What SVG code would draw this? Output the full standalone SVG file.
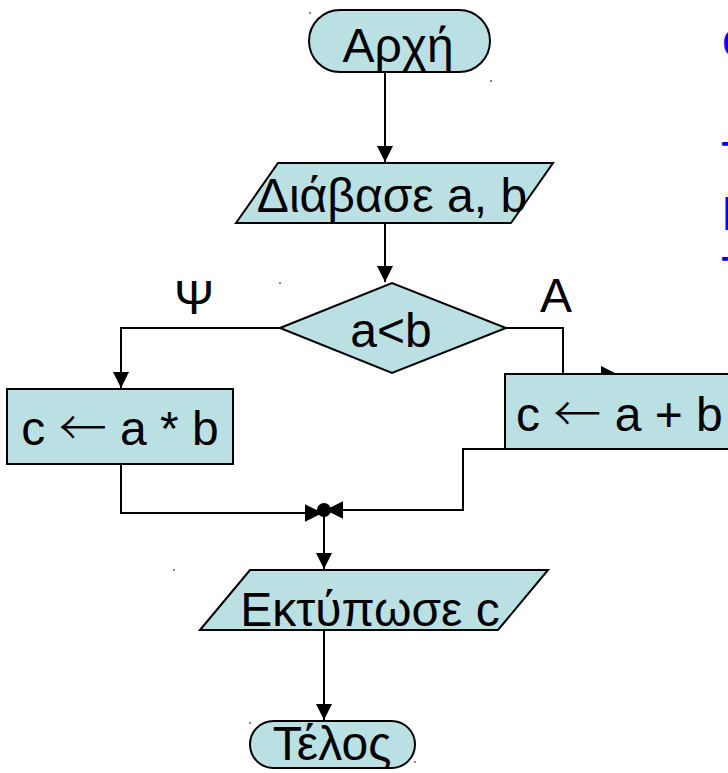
<svg xmlns="http://www.w3.org/2000/svg" width="728" height="773" viewBox="0 0 728 773">
  <style>
    .shape { fill: #BBE0E3; stroke: #000; stroke-width: 2; }
    .lbl { font-family: "Liberation Sans", Arial, sans-serif; font-size: 48px; fill: #000; }
    .mid { text-anchor: middle; }
    .arr { font-family: "Noto Sans CJK JP", "DejaVu Sans", sans-serif; font-weight: 300; }
    .edge { fill: none; stroke: #000; stroke-width: 2; }
    .side { font-family: "Liberation Sans", Arial, sans-serif; font-size: 48px; fill: #0000FF; }
    .speck { fill: #888; }
  </style>
  <defs>
    <marker id="arrowBig" viewBox="0 0 10 10" refX="10" refY="5" markerWidth="16" markerHeight="16" markerUnits="userSpaceOnUse" orient="auto">
      <path d="M0,0 L10,5 L0,10 Z" fill="#000"/>
    </marker>
    <marker id="arrowJoin" viewBox="0 0 10 10" refX="8" refY="5" markerWidth="18" markerHeight="18" markerUnits="userSpaceOnUse" orient="auto">
      <path d="M0,0 L10,5 L0,10 Z" fill="#000"/>
    </marker>
  </defs>

  <!-- connectors -->
  <g id="connectors">
    <path class="edge" d="M385,72 V162" marker-end="url(#arrowBig)"/>
    <path class="edge" d="M385,223 V282" marker-end="url(#arrowBig)"/>
    <path class="edge" d="M280,328 H121 V388" marker-end="url(#arrowBig)"/>
    <path class="edge" d="M506,328 H563 V374 H617" marker-end="url(#arrowBig)"/>
    <path class="edge" d="M121,464 V513 H319" marker-end="url(#arrowJoin)"/>
    <path class="edge" d="M603,449 H463 V510 H329" marker-end="url(#arrowJoin)"/>
    <circle cx="324" cy="510" r="7" fill="#000"/>
    <path class="edge" d="M324,510 V569" marker-end="url(#arrowBig)"/>
    <path class="edge" d="M324,630 V720" marker-end="url(#arrowBig)"/>
  </g>

  <g id="start">
    <rect class="shape" x="309" y="10" width="181" height="62" rx="31"/>
    <text class="lbl mid" x="398" y="62">Αρχή</text>
  </g>

  <g id="read">
    <polygon class="shape" points="236,223 278,163 553,163 511,223"/>
    <text class="lbl mid" x="392" y="212">Διάβασε a, b</text>
  </g>

  <g id="decision">
    <polygon class="shape" points="280,328 392,283 506,328 392,373"/>
    <text class="lbl mid" x="391" y="347">a&lt;b</text>
  </g>
  <text class="lbl mid" x="194" y="314">Ψ</text>
  <text class="lbl mid" x="556" y="312">Α</text>

  <g id="product">
    <rect class="shape" x="7" y="389" width="226" height="75"/>
    <text class="lbl mid" x="120" y="445">c <tspan class="arr">←</tspan> a * b</text>
  </g>

  <g id="sum">
    <rect class="shape" x="505" y="374" width="240" height="75"/>
    <text class="lbl" x="516" y="431">c <tspan class="arr">←</tspan> a + b</text>
  </g>

  <g id="print">
    <polygon class="shape" points="200,630 250,570 548,570 498,630"/>
    <text class="lbl mid" x="370" y="626">Εκτύπωσε c</text>
  </g>

  <g id="end">
    <rect class="shape" x="250" y="721" width="165" height="47" rx="23.5"/>
    <text class="lbl mid" x="332" y="760">Τέλος</text>
  </g>

  <!-- text running past the right edge -->
  <g id="side-text">
    <text class="side" x="722" y="56">c</text>
    <text class="side" x="721" y="175">T</text>
    <text class="side" x="721" y="230">Ι</text>
    <text class="side" x="721" y="290">T</text>
  </g>

  <!-- stray marks -->
  <g id="specks">
    <rect class="speck" x="309" y="12" width="2" height="2"/>
    <rect class="speck" x="490" y="80" width="2" height="2"/>
    <rect class="speck" x="279" y="282" width="2" height="2"/>
    <rect class="speck" x="173" y="569" width="2" height="2"/>
    <rect class="speck" x="249" y="722" width="2" height="2"/>
    <rect class="speck" x="414" y="761" width="2" height="2"/>
  </g>
</svg>
